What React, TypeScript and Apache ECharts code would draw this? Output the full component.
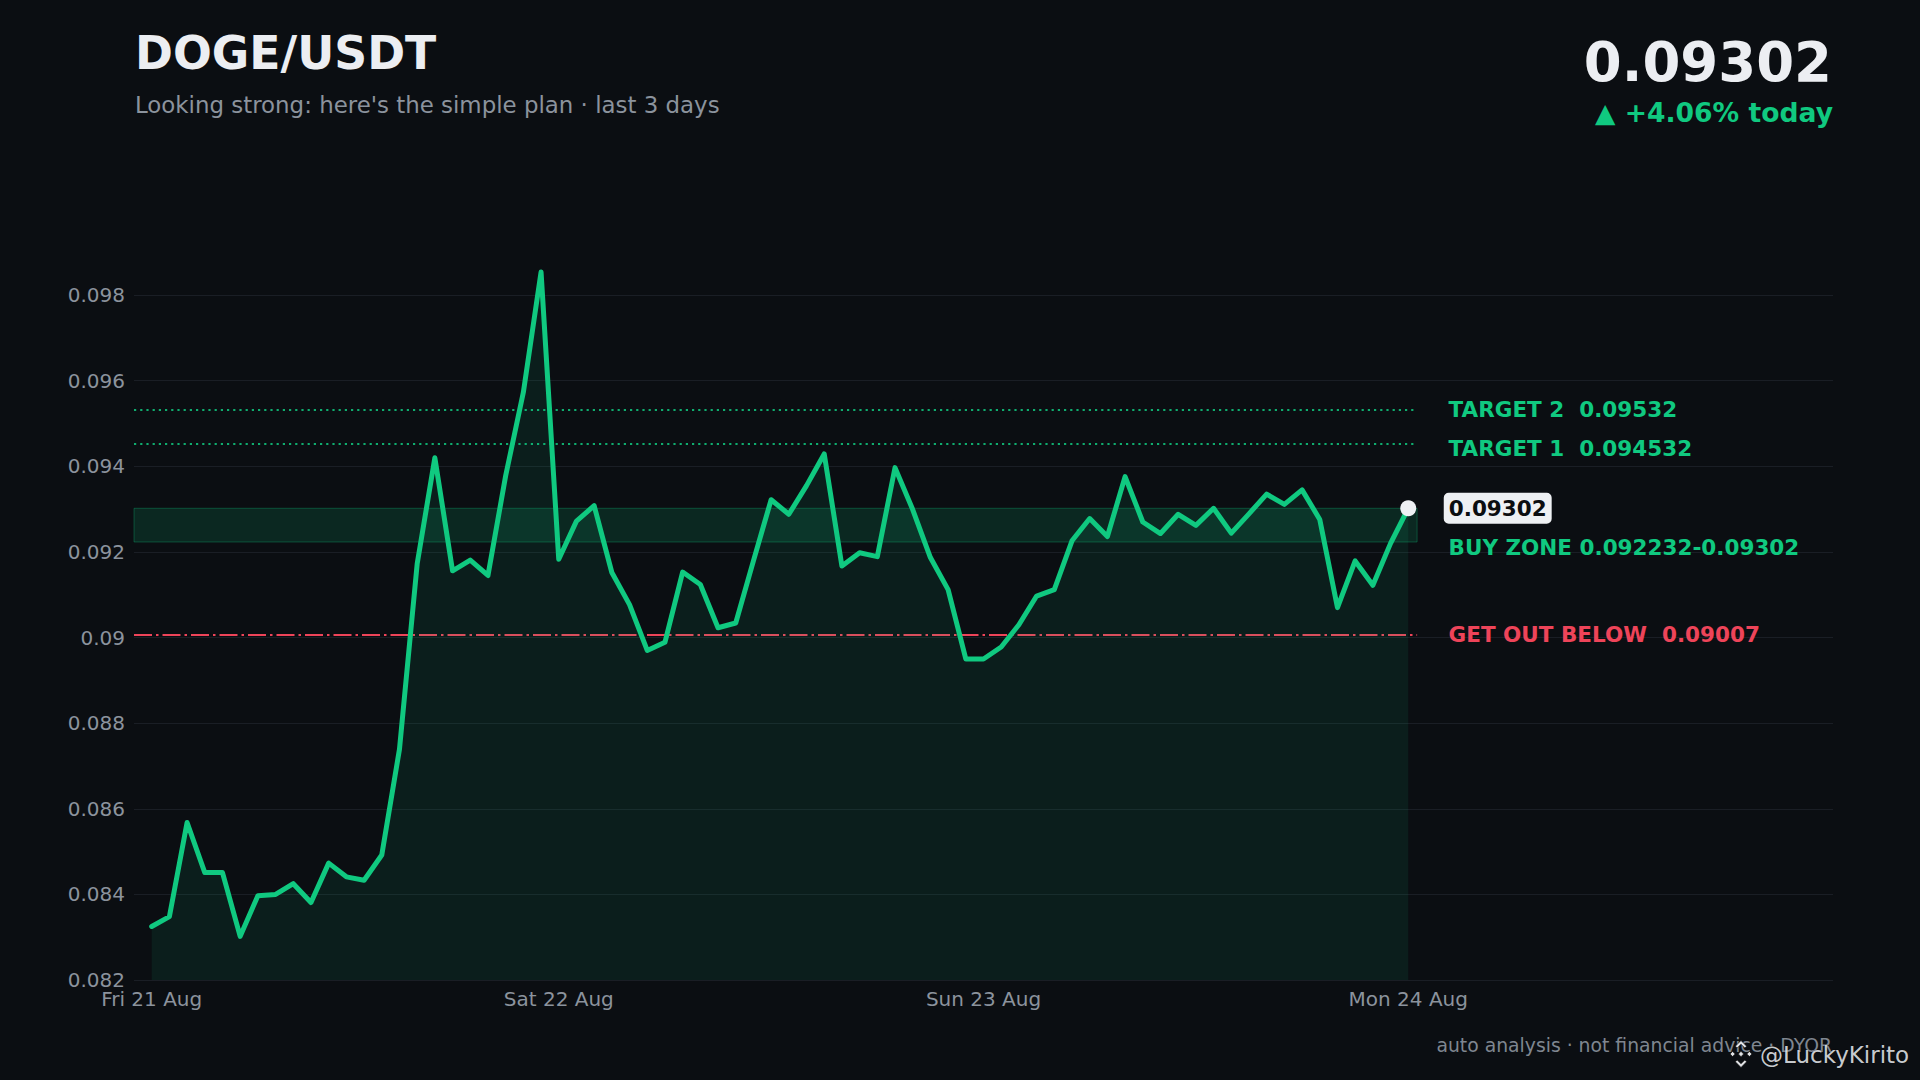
import React, { useEffect, useRef } from "react";
import * as echarts from "echarts";

// ---------- texts ----------
const TITLE = "DOGE/USDT";
const SUBTITLE = "Looking strong: here's the simple plan · last 3 days";
const LAST_PRICE_TEXT = "0.09302";
const CHANGE_TEXT = "▲ +4.06% today";
const FOOTER = "auto analysis · not financial advice · DYOR";
const WATERMARK = "@LuckyKirito";

// ---------- data (hourly closes, index 0..71) ----------
const prices = [
  0.08325, 0.08348, 0.08568, 0.08451, 0.08451, 0.08302, 0.08397, 0.084,
  0.08425, 0.08381, 0.08473, 0.08441, 0.08433, 0.08492, 0.08739, 0.09172,
  0.0942, 0.09156, 0.09181, 0.09145, 0.09378, 0.09573, 0.09854, 0.09183,
  0.09272, 0.09308, 0.09152, 0.09077, 0.0897, 0.08989, 0.09153, 0.09124,
  0.09023, 0.09034, 0.09179, 0.09322, 0.09288, 0.09355, 0.09429, 0.09167,
  0.09198, 0.09189, 0.09397, 0.09299, 0.09187, 0.09112, 0.0895, 0.0895,
  0.08978, 0.0903, 0.09097, 0.09112, 0.09226, 0.09278, 0.09236, 0.09376,
  0.0927, 0.09243, 0.09288, 0.09262, 0.09302, 0.09244, 0.09289, 0.09335,
  0.09311, 0.09345, 0.09276, 0.0907, 0.09179, 0.09122, 0.0922, 0.09302,
];
const xLabelIndex = [0, 23, 47, 71];
const xLabels = ["Fri 21 Aug", "Sat 22 Aug", "Sun 23 Aug", "Mon 24 Aug"];
const yTicks = [0.082, 0.084, 0.086, 0.088, 0.09, 0.092, 0.094, 0.096, 0.098];
const target2 = 0.09532;
const target1 = 0.094532;
const buyZone = [0.092232, 0.09302];
const stopLoss = 0.09007;
const levelLabels = {
  target2: "TARGET 2  0.09532",
  target1: "TARGET 1  0.094532",
  buyZone: "BUY ZONE 0.092232-0.09302",
  stopLoss: "GET OUT BELOW  0.09007",
};

// ---------- styles ----------
const BG = "#0b0e12";
const GREEN = "#10c980";
const RED = "#ee4459";
const GRAY = "#8b939d";
const WHITE = "#eef0f3";
const FONT = "DejaVu Sans";
const X_MIN = -1;
const X_MAX = 95;
const LEVEL_END = 71.5;

function logoPart(points: number[][], cx: number, cy: number, r: number) {
  return {
    type: "polygon",
    shape: { points: points.map(([a, b]) => [cx + a * r, cy + b * r]) },
    style: { fill: "rgba(236,238,241,0.95)", stroke: "rgba(15,15,15,0.7)", lineWidth: 1 },
    silent: true,
  };
}

function binanceLogo(cx: number, cy: number, r: number) {
  const d = (x: number, y: number, s: number) => [[x, y - s], [x + s, y], [x, y + s], [x - s, y]];
  const top = [[0, -1], [0.42, -0.58], [0.28, -0.44], [0, -0.72], [-0.28, -0.44], [-0.42, -0.58]];
  const bottom = top.map(([a, b]) => [a, -b]);
  return {
    type: "group",
    silent: true,
    children: [
      logoPart(d(0, 0, 0.2), cx, cy, r),
      logoPart(d(-0.62, 0, 0.19), cx, cy, r),
      logoPart(d(0.62, 0, 0.19), cx, cy, r),
      logoPart(top, cx, cy, r),
      logoPart(bottom, cx, cy, r),
    ],
  };
}

// shiftDown: how far (px) the label's centre sits below the level line
function levelLine(value: number, text: string, color: string, labelColor: string, type: any, width: number, shiftDown = 0) {
  const TEXT_LH = 24;
  const spacer = shiftDown * 2;
  return [
    {
      coord: [X_MIN, value],
      lineStyle: { color, type, width, cap: "butt" },
      label: {
        show: true,
        position: "end",
        distance: 31.5,
        formatter: shiftDown > 0 ? `{s| }\n{t|${text}}` : `{t|${text}}`,
        rich: {
          s: { fontSize: 1, lineHeight: spacer },
          t: {
            color: labelColor,
            fontSize: 21.5,
            fontWeight: "bold",
            fontFamily: FONT,
            lineHeight: TEXT_LH,
          },
        },
      },
    },
    { coord: [LEVEL_END, value] },
  ];
}

export default function App() {
  const ref = useRef<HTMLDivElement>(null);

  useEffect(() => {
    document.body.style.margin = "0";
    document.body.style.background = BG;
    if (!ref.current) return;
    const chart = echarts.init(ref.current, undefined, { renderer: "svg" });
    const lastIdx = prices.length - 1;
    const dotted = "rgba(16,201,128,0.85)";

    const option: any = {
      animation: false,
      backgroundColor: BG,
      textStyle: { fontFamily: FONT },
      grid: { left: 134, right: 87, top: 209.5, bottom: 100 },
      xAxis: {
        type: "value",
        min: X_MIN,
        max: X_MAX,
        axisLine: { show: false },
        axisTick: { show: false },
        splitLine: { show: false },
        axisLabel: {
          customValues: xLabelIndex,
          formatter: (v: number) => {
            const k = xLabelIndex.indexOf(Math.round(v));
            return k >= 0 ? xLabels[k] : "";
          },
          color: GRAY,
          fontSize: 20,
          fontFamily: FONT,
          margin: 9,
          lineHeight: 20,
        },
      },
      yAxis: {
        type: "value",
        min: 0.082,
        max: 0.1,
        interval: 0.002,
        axisLine: { show: false },
        axisTick: { show: false },
        splitLine: { show: false },
        axisLabel: {
          color: GRAY,
          fontSize: 20,
          fontFamily: FONT,
          margin: 9,
          showMaxLabel: false,
          formatter: (v: number) => String(+(+v).toFixed(3)),
        },
      },
      graphic: [
        {
          type: "text", x: 135, y: 53.3, silent: true,
          style: { text: TITLE, fill: "#eceef2", fontSize: 45.7, fontWeight: "bold", fontFamily: FONT, align: "left", verticalAlign: "middle" },
        },
        {
          type: "text", x: 135, y: 105, silent: true,
          style: { text: SUBTITLE, fill: GRAY, fontSize: 22.9, fontFamily: FONT, align: "left", verticalAlign: "middle" },
        },
        {
          type: "text", x: 1832, y: 62, silent: true,
          style: { text: LAST_PRICE_TEXT, fill: "#eceef2", fontSize: 54.5, fontWeight: "bold", fontFamily: FONT, align: "right", verticalAlign: "middle" },
        },
        {
          type: "text", x: 1833, y: 112, silent: true,
          style: { text: CHANGE_TEXT, fill: GREEN, fontSize: 26.6, fontWeight: "bold", fontFamily: FONT, align: "right", verticalAlign: "middle" },
        },
        {
          type: "text", x: 1832, y: 1045.8, silent: true,
          style: { text: FOOTER, fill: "#7f8690", fontSize: 18.8, fontFamily: FONT, align: "right", verticalAlign: "middle" },
        },
        binanceLogo(1741, 1054, 13.5),
        {
          type: "text", x: 1760, y: 1054.5, silent: true,
          style: { text: WATERMARK, fill: "rgba(226,229,233,0.9)", fontSize: 23, fontFamily: FONT, align: "left", verticalAlign: "middle", stroke: "rgba(0,0,0,0.35)", lineWidth: 1 },
        },
      ],
      series: [
        {
          name: "grid",
          type: "line",
          data: [],
          silent: true,
          markLine: {
            z: 1,
            silent: true,
            precision: 6,
            symbol: ["none", "none"],
            label: { show: false },
            lineStyle: { color: "#1a1e25", width: 1.2, type: "solid" },
            data: yTicks.map((v) => ({ yAxis: v })),
          },
        },
        {
          name: "levels",
          type: "line",
          data: [],
          silent: true,
          markArea: {
            z: 1,
            silent: true,
            precision: 6,
            label: { show: false },
            itemStyle: { color: "rgba(16,201,128,0.14)", borderColor: "rgba(16,201,128,0.3)", borderWidth: 1 },
            data: [[{ coord: [X_MIN, buyZone[1]] }, { coord: [LEVEL_END, buyZone[0]] }]],
          },
          markLine: {
            z: 2,
            silent: true,
            precision: 6,
            symbol: ["none", "none"],
            data: [
              levelLine(target2, levelLabels.target2, dotted, GREEN, [2.2, 4], 2),
              levelLine(target1, levelLabels.target1, dotted, GREEN, [2.2, 4], 2, 4.5),
              levelLine(stopLoss, levelLabels.stopLoss, RED, RED, [18, 4, 2.5, 4], 2.2),
              levelLine(buyZone[0], levelLabels.buyZone, "transparent", GREEN, "solid", 0, 5),
            ],
          },
        },
        {
          name: "DOGE/USDT",
          type: "line",
          z: 3,
          data: prices.map((p, i) => [i, p]),
          symbol: "none",
          lineStyle: { color: GREEN, width: 5, join: "round", cap: "round" },
          areaStyle: { color: "rgba(16,201,128,0.13)", origin: "start" },
          silent: true,
        },
        {
          name: "last",
          type: "scatter",
          z: 4,
          data: [[lastIdx, prices[lastIdx]]],
          symbol: "circle",
          symbolSize: 16,
          itemStyle: { color: WHITE, opacity: 1 },
          silent: true,
          label: {
            show: true,
            position: "right",
            distance: 27.5,
            formatter: () => LAST_PRICE_TEXT,
            color: "#0b0d10",
            backgroundColor: WHITE,
            borderRadius: 5,
            padding: [5, 5, 4, 5],
            fontSize: 21.5,
            lineHeight: 22,
            fontWeight: "bold",
            fontFamily: FONT,
          },
        },
      ],
    };

    chart.setOption(option);
    return () => chart.dispose();
  }, []);

  return <div ref={ref} style={{ width: 1920, height: 1080 }} />;
}
